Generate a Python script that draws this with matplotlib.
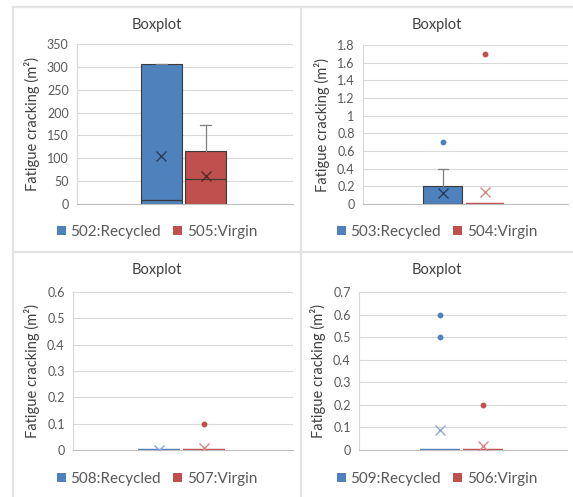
import matplotlib
matplotlib.use("Agg")
import matplotlib.pyplot as plt
from matplotlib.patches import Patch
from matplotlib.lines import Line2D
from matplotlib.ticker import FuncFormatter, MultipleLocator

plt.rcParams['font.family'] = ['Lato', 'DejaVu Sans']

# --- data (one box per series) ---
p1_labels = ['502:Recycled', '505:Virgin']
p1_q1 = [0, 0]
p1_med = [9, 55]
p1_q3 = [306, 115]
p1_lo = [0, 0]
p1_hi = [306, 172]
p1_mean = [106, 62]
p1_out = [[], []]

p2_labels = ['503:Recycled', '504:Virgin']
p2_q1 = [0, 0]
p2_med = [0, 0]
p2_q3 = [0.2, 0]
p2_lo = [0, 0]
p2_hi = [0.4, 0]
p2_mean = [0.12, 0.135]
p2_out = [[0.7], [1.7]]

p3_labels = ['508:Recycled', '507:Virgin']
p3_q1 = [0, 0]
p3_med = [0, 0]
p3_q3 = [0, 0]
p3_lo = [0, 0]
p3_hi = [0, 0]
p3_mean = [0.0, 0.009]
p3_out = [[], [0.1]]

p4_labels = ['509:Recycled', '506:Virgin']
p4_q1 = [0, 0]
p4_med = [0, 0]
p4_q3 = [0, 0]
p4_lo = [0, 0]
p4_hi = [0, 0]
p4_mean = [0.087, 0.018]
p4_out = [[0.5, 0.6], [0.2]]

y_max = [350, 1.8, 0.6, 0.7]
y_step = [50, 0.2, 0.1, 0.1]

colors = ['#4f81bd', '#c0504d']
light = ['#8eaad6', '#d68a88']
dark = ['#2a3f5e', '#5e2726']
text_col = '#595959'
grid_col = '#d9d9d9'

W, H = 573, 497
fig = plt.figure(figsize=(W / 100, H / 100), dpi=100)


def fx(px):
    return px / W


def fy(py):
    return 1 - py / H


def panel(rect, chart_rect, title_y, legend_y, labels, q1, med, q3, lo, hi,
          mean, out, ymax, ystep):
    l, t, r, b = rect
    ax = fig.add_axes([fx(l), fy(b), fx(r - l), (b - t) / H])
    stats = []
    for i in range(2):
        stats.append(dict(q1=q1[i], med=med[i], q3=q3[i], whislo=lo[i],
                          whishi=hi[i], mean=mean[i], fliers=out[i]))
    pos = [0.39, 0.595]
    arts = ax.bxp(stats, positions=pos, widths=0.19, patch_artist=True,
                  showmeans=False, showcaps=True, manage_ticks=False)
    for i, box in enumerate(arts['boxes']):
        box.set_facecolor(colors[i])
        if q3[i] > q1[i]:
            box.set_edgecolor('#3a3a3a')
            box.set_linewidth(0.8)
        else:
            box.set_edgecolor(colors[i])
            box.set_linewidth(1.6)
    for i, m in enumerate(arts['medians']):
        m.set_color('#3a3a3a' if q3[i] > q1[i] else colors[i])
        m.set_linewidth(0.9 if q3[i] > q1[i] else 1.6)
    for w in arts['whiskers']:
        w.set_color('#7f7f7f')
        w.set_linewidth(0.9)
    for i, c in enumerate(arts['caps']):
        c.set_color('#7f7f7f')
        c.set_linewidth(0.9)
        c.set_xdata([pos[i // 2] - 0.025, pos[i // 2] + 0.025])
    for i, f in enumerate(arts['fliers']):
        f.set_marker('o')
        f.set_markersize(3.2)
        f.set_markerfacecolor(colors[i])
        f.set_markeredgecolor(colors[i])
    for i in range(2):
        inside = q3[i] > q1[i]
        ax.plot(pos[i], mean[i], marker='x', markersize=6.5, mew=1.0,
                color=dark[i] if inside else light[i], zorder=5)

    ax.set_xlim(0, 1)
    ax.set_ylim(0, ymax)
    ax.yaxis.set_major_locator(MultipleLocator(ystep))
    ax.yaxis.set_major_formatter(FuncFormatter(lambda v, p: f'{round(v, 6):g}'))
    ax.set_xticks([])
    ax.tick_params(axis='y', length=0, pad=6, labelsize=9, labelcolor=text_col)
    ax.grid(axis='y', color=grid_col, lw=0.8)
    ax.set_axisbelow(True)
    for s in ['top', 'right']:
        ax.spines[s].set_visible(False)
    ax.spines['left'].set_color(grid_col)
    ax.spines['bottom'].set_color('#bfbfbf')
    ax.set_ylabel('Fatigue cracking (m²)', fontsize=10.5, color='#404040',
                  labelpad=5)

    cl, cr = chart_rect
    cx = (cl + cr) / 2
    fig.text(fx(cx), fy(title_y), 'Boxplot', ha='center', va='center',
             fontsize=10.5, color='#404040')
    handles = [Patch(facecolor=colors[i], edgecolor='none', label=labels[i])
               for i in range(2)]
    fig.legend(handles=handles, loc='center', ncol=2, frameon=False,
               bbox_to_anchor=(fx(cx), fy(legend_y)), fontsize=11,
               labelcolor=text_col, handlelength=0.6, handleheight=0.6,
               handletextpad=0.3, columnspacing=0.8)
    return ax


panel((77, 44, 293, 204), (13, 301), 25, 232, p1_labels, p1_q1, p1_med,
      p1_q3, p1_lo, p1_hi, p1_mean, p1_out, y_max[0], y_step[0])
panel((363, 45, 568, 204), (301, 573), 25, 232, p2_labels, p2_q1, p2_med,
      p2_q3, p2_lo, p2_hi, p2_mean, p2_out, y_max[1], y_step[1])
panel((73, 292, 293, 450), (13, 301), 270, 479, p3_labels, p3_q1, p3_med,
      p3_q3, p3_lo, p3_hi, p3_mean, p3_out, y_max[2], y_step[2])
panel((359, 292, 567, 450), (301, 573), 270, 479, p4_labels, p4_q1, p4_med,
      p4_q3, p4_lo, p4_hi, p4_mean, p4_out, y_max[3], y_step[3])

# panel borders
border = dict(color='#e3e3e3', lw=1.6, transform=fig.transFigure)
fig.add_artist(Line2D([fx(13), fx(13)], [fy(7), 0], **border))
fig.add_artist(Line2D([fx(13), 1], [fy(7), fy(7)], **border))
fig.add_artist(Line2D([fx(301), fx(301)], [fy(7), 0], **border))
fig.add_artist(Line2D([fx(13), 1], [fy(252), fy(252)], **border))

fig.savefig('out.png', dpi=100)
